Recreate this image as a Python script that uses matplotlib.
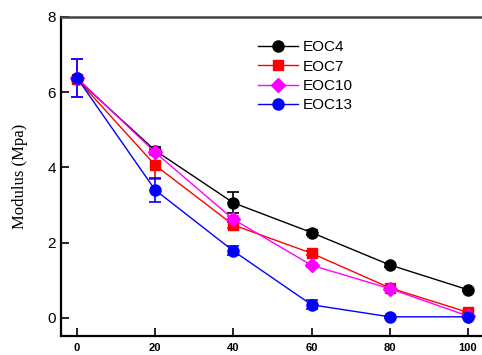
import matplotlib
matplotlib.use("Agg")
import matplotlib.pyplot as plt
from matplotlib.lines import Line2D

x = [0, 20, 40, 60, 80, 100]
eoc4 = [6.35, 4.45, 3.06, 2.27, 1.41, 0.75]
eoc4_err = [0.0, 0.10, 0.28, 0.06, 0.05, 0.03]
eoc7 = [6.35, 4.06, 2.47, 1.72, 0.80, 0.15]
eoc7_err = [0.0, 0.36, 0.08, 0.05, 0.05, 0.03]
eoc10 = [6.38, 4.40, 2.62, 1.40, 0.78, 0.05]
eoc10_err = [0.50, 0.08, 0.08, 0.05, 0.05, 0.03]
eoc13 = [6.38, 3.40, 1.78, 0.35, 0.03, 0.03]
eoc13_err = [0.50, 0.33, 0.12, 0.12, 0.03, 0.03]
labels = ["EOC4", "EOC7", "EOC10", "EOC13"]
colors = ["black", "red", "#ff00ff", "blue"]
markers = ["o", "s", "D", "o"]

fig = plt.figure(figsize=(4.82, 3.55), dpi=100)
ax = fig.add_axes([61/482, 19/355, 1 - 61/482, (336-17)/355])

series = [(eoc4, eoc4_err), (eoc7, eoc7_err), (eoc10, eoc10_err), (eoc13, eoc13_err)]
handles = []
for (y, e), lab, c, m in zip(series, labels, colors, markers):
    ms = 7 if m != "o" else 8
    ax.errorbar(x, y, yerr=e, color=c, marker=m, markersize=ms, linewidth=1,
                elinewidth=1.2, capsize=4, capthick=1.2)
    handles.append(Line2D([], [], color=c, marker=m, markersize=ms, linewidth=1, label=lab))

ax.set_xlim(-4.1, 103.6)
ax.set_ylim(-0.48, 8)
ax.set_xticks(x)
ax.set_yticks([0, 2, 4, 6, 8])
ax.tick_params(axis="both", direction="in", length=6, width=1.2)
ax.tick_params(axis="x", pad=5)
for lbl in ax.get_xticklabels():
    lbl.set_fontweight("bold")
    lbl.set_fontfamily("Liberation Sans")
    lbl.set_fontsize(8)
for lbl in ax.get_yticklabels():
    lbl.set_fontfamily("Liberation Sans")
    lbl.set_fontsize(11)
ax.set_ylabel("Modulus (Mpa)", fontfamily="Liberation Serif", fontsize=12, labelpad=14)
for s in ["left", "bottom"]:
    ax.spines[s].set_linewidth(1.6)
ax.spines["top"].set_linewidth(1.8)
ax.spines["top"].set_color("#444444")
ax.spines["right"].set_visible(False)

leg = ax.legend(handles=handles, loc="upper left", bbox_to_anchor=(0.435, 0.97), frameon=False,
                prop={"family": "Liberation Sans", "size": 11}, handlelength=2.6,
                labelspacing=0.35, handletextpad=0.35)

fig.savefig("out.png", dpi=100)
